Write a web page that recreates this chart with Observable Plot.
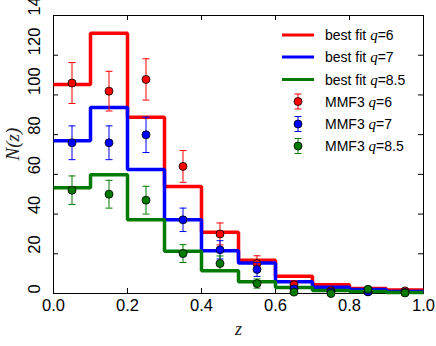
<!DOCTYPE html>
<html><head><meta charset="utf-8">
<script src="https://cdn.jsdelivr.net/npm/d3@7"></script>
<script src="https://cdn.jsdelivr.net/npm/@observablehq/plot@0.6"></script>
<style>
body{margin:0;background:#fff}
#chart{position:relative;width:436px;height:346px}
</style>
</head><body><div id="chart"></div>
<script>
// ---- data ----
const binEdges = [0.0,0.1,0.2,0.3,0.4,0.5,0.6,0.7,0.8,0.9,1.0];
const binCenters = [0.05,0.15,0.25,0.35,0.45,0.55,0.65,0.75,0.85,0.95];
const fitQ6  = [105.2,131.0,88.8,53.9,30.9,16.8,8.7,4.4,2.5,1.7];
const fitQ7  = [76.9,93.7,62.4,37.1,21.5,15.3,5.9,3.2,2.0,1.0];
const fitQ85 = [53.2,59.8,37.1,21.3,11.4,5.9,3.0,1.5,1.0,0.5];
const obsQ6  = [106.0,101.9,107.8,64.0,30.0,15.1,4.4,1.4,1.0,1.3];
const errQ6  = [10.3,10.0,10.4,8.0,5.5,3.9,2.0,1.0,1.0,1.0];
const obsQ7  = [75.9,75.9,79.9,37.1,22.0,12.1,2.3,0.8,0.8,0.5];
const errQ7  = [8.5,8.5,8.9,5.9,4.6,3.5,1.5,0.8,0.8,0.6];
const obsQ85 = [52.0,50.0,47.0,20.1,15.1,5.0,0.7,0.0,2.1,0.3];
const errQ85 = [7.2,7.0,7.0,4.5,3.8,2.3,0.8,0.5,1.2,0.5];
const seriesLabels = ["6","7","8.5"];
const seriesColors = ["#ff0000","#0000ff","#007a00"];
const xTicks = [0.0,0.2,0.4,0.6,0.8,1.0];
const yTicks = [0,20,40,60,80,100,120,140];

// ---- build tables ----
const fits = [fitQ6, fitQ7, fitQ85];
const obs = [obsQ6, obsQ7, obsQ85];
const errs = [errQ6, errQ7, errQ85];
const stepData = fits.map(vals => binEdges.map((e, i) => ({x: e, y: vals[Math.min(i, vals.length - 1)]})));
const pointData = obs.map((vals, s) => binCenters.map((c, i) => ({x: c, y: vals[i], lo: vals[i] - errs[s][i], hi: vals[i] + errs[s][i]})));

const W = 436, H = 346, mL = 53, mR = 13, mT = 15, mB = 53;
const fw = W - mL - mR, fh = H - mT - mB;
const capSymbol = {draw(ctx){ ctx.moveTo(-3.5, 0); ctx.lineTo(3.5, 0); }};
const sans = "Liberation Sans, Arial, Helvetica, sans-serif";
const serif = "Liberation Serif, Times New Roman, serif";

const marks = [
  Plot.frame({stroke: "black", strokeWidth: 1}),
  Plot.tickX(xTicks, {x: d => d, insetTop: fh - 5, stroke: "black"}),
  Plot.tickX(xTicks, {x: d => d, insetBottom: fh - 5, stroke: "black"}),
  Plot.tickY(yTicks, {y: d => d, insetRight: fw - 5, stroke: "black"}),
  Plot.tickY(yTicks, {y: d => d, insetLeft: fw - 5, stroke: "black"}),
];
stepData.forEach((d, s) => marks.push(
  Plot.line(d, {x: "x", y: "y", curve: "step-after", stroke: seriesColors[s], strokeWidth: 3.5, strokeLinejoin: "miter", strokeLinecap: "butt"})
));
pointData.forEach((d, s) => {
  marks.push(Plot.ruleX(d, {x: "x", y1: "lo", y2: "hi", stroke: seriesColors[s], strokeWidth: 1}));
  marks.push(Plot.dot(d, {x: "x", y: "lo", symbol: capSymbol, stroke: seriesColors[s], strokeWidth: 1, fill: "none", r: 3}));
  marks.push(Plot.dot(d, {x: "x", y: "hi", symbol: capSymbol, stroke: seriesColors[s], strokeWidth: 1, fill: "none", r: 3}));
  marks.push(Plot.dot(d, {x: "x", y: "y", r: 4, fill: seriesColors[s], stroke: "black", strokeWidth: 0.8}));
});
marks.push(
  Plot.text(xTicks, {x: d => d, text: d => d.toFixed(1), frameAnchor: "bottom", dy: 17, fontSize: 16.5, fill: "black"}),
  Plot.text(yTicks, {y: d => d, text: d => String(d), frameAnchor: "left", dx: -19, rotate: -90, fontSize: 16.5, fill: "black"}),
  Plot.text(["z"], {text: d => d, frameAnchor: "bottom", dy: 41, fontSize: 18, fontStyle: "italic", fontFamily: serif, fill: "#222"}),
  Plot.text(["N(z)"], {text: d => d, frameAnchor: "left", dx: -41, dy: 6, rotate: -90, fontSize: 19, fontStyle: "italic", fontFamily: serif, fill: "#222", letterSpacing: 1.5})
);

const chart = Plot.plot({
  width: W, height: H,
  marginLeft: mL, marginRight: mR, marginTop: mT, marginBottom: mB,
  x: {domain: [0, 1], axis: null},
  y: {domain: [0, 140], axis: null},
  style: {fontFamily: sans, background: "#fff", overflow: "visible"},
  marks
});
document.getElementById("chart").appendChild(chart);

// ---- legend ----
const svg = d3.select(chart);
const lg = svg.append("g").attr("font-family", sans).attr("font-size", 14).attr("text-anchor", "start");
const rowY = [35, 57, 79.5, 101.5, 124, 146];
seriesLabels.forEach((lab, s) => {
  const y = rowY[s];
  lg.append("line").attr("x1", 282).attr("x2", 314).attr("y1", y).attr("y2", y)
    .attr("stroke", seriesColors[s]).attr("stroke-width", 3);
  const t = lg.append("text").attr("x", 325).attr("y", y + 5);
  t.append("tspan").text("best fit ");
  t.append("tspan").attr("font-family", serif).attr("font-style", "italic").attr("font-size", 15).text("q");
  t.append("tspan").text("=" + lab);
});
seriesLabels.forEach((lab, s) => {
  const y = rowY[3 + s], x = 298;
  lg.append("line").attr("x1", x).attr("x2", x).attr("y1", y - 7.5).attr("y2", y + 7.5).attr("stroke", seriesColors[s]);
  lg.append("line").attr("x1", x - 3.5).attr("x2", x + 3.5).attr("y1", y - 7.5).attr("y2", y - 7.5).attr("stroke", seriesColors[s]);
  lg.append("line").attr("x1", x - 3.5).attr("x2", x + 3.5).attr("y1", y + 7.5).attr("y2", y + 7.5).attr("stroke", seriesColors[s]);
  lg.append("circle").attr("cx", x).attr("cy", y).attr("r", 4).attr("fill", seriesColors[s]).attr("stroke", "black").attr("stroke-width", 0.8);
  const t = lg.append("text").attr("x", 325).attr("y", y + 5);
  t.append("tspan").text("MMF3 ");
  t.append("tspan").attr("font-family", serif).attr("font-style", "italic").attr("font-size", 15).text("q");
  t.append("tspan").text("=" + lab);
});
</script>
</body></html>
